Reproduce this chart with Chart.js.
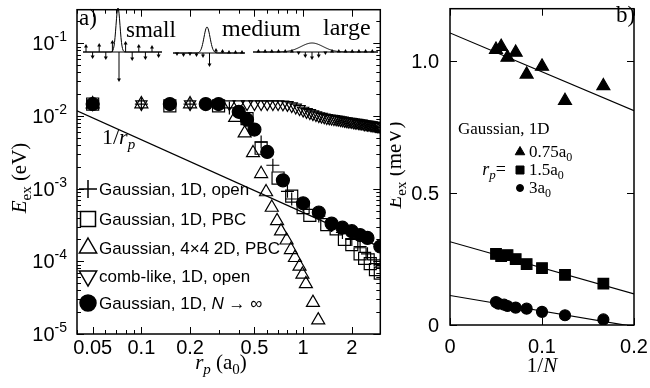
<!DOCTYPE html>
<html>
<head>
<meta charset="utf-8">
<script src="https://cdn.jsdelivr.net/npm/chart.js@4"></script>
<style>
  body { margin: 0; background: #fff; }
  #wrap { position: relative; width: 650px; height: 388px; }
  canvas { position: absolute; top: 0; }
</style>
</head>
<body>
<div id="wrap">
  <canvas id="chartA" width="390" height="388" style="left:0"></canvas>
  <canvas id="chartB" width="260" height="388" style="left:390px"></canvas>
</div>
<script>
// ---------- panel a) : E_ex (eV) against r_p (a0), log-log ----------
const rpOpen = [0.05, 0.1, 0.2, 0.35, 0.45, 0.55, 0.65, 0.8, 0.85, 1.0, 1.25, 1.5, 1.75, 2.0, 2.25, 2.5, 2.75, 3.0];
const eOpen = [0.0146, 0.0146, 0.0146, 0.0129, 0.0089, 0.0044, 0.0021, 0.00092, 0.00072, 0.00060, 0.00042, 0.00031, 0.00025, 0.00020, 0.00016, 0.000127, 0.000105, 0.00009];

const rpPbc = [0.05, 0.15, 0.3, 0.45, 0.55, 0.7, 0.85, 1.0, 1.1, 1.4, 1.6, 1.8, 2.0, 2.25, 2.4, 2.6, 2.8, 3.0];
const ePbc = [0.0146, 0.0138, 0.0138, 0.0092, 0.0036, 0.0014, 0.00079, 0.00055, 0.00043, 0.00032, 0.00028, 0.00020, 0.00017, 0.000127, 0.00011, 0.000093, 0.000077, 0.000069];

const rp2d = [0.05, 0.1, 0.2, 0.38, 0.435, 0.49, 0.55, 0.59, 0.64, 0.69, 0.73, 0.79, 0.84, 0.89, 0.95, 0.99, 1.04, 1.15, 1.24];
const e2d = [0.0146, 0.0146, 0.0146, 0.0095, 0.0058, 0.0031, 0.0016, 0.0009, 0.00055, 0.00036, 0.00026, 0.000195, 0.000144, 0.000112, 0.000085, 0.000066, 0.000049, 0.000027, 0.0000155];

const rpComb = [0.05, 0.1, 0.2, 0.35, 0.4, 0.45, 0.5, 0.55, 0.6, 0.65, 0.7, 0.75, 0.8, 0.85, 0.9, 0.95, 1.0,
  1.05, 1.1, 1.15, 1.2, 1.25, 1.3, 1.35, 1.4, 1.45, 1.5, 1.55, 1.6, 1.65, 1.7, 1.75, 1.8, 1.85, 1.9, 1.95, 2.0,
  2.05, 2.1, 2.15, 2.2, 2.25, 2.3, 2.35, 2.4, 2.45, 2.5, 2.55, 2.6, 2.65, 2.7, 2.75, 2.8, 2.85, 2.9, 2.95, 3.0];
const eComb = [0.0146, 0.0146, 0.0146, 0.0146, 0.0146, 0.0146, 0.0146, 0.0146, 0.0146, 0.0146, 0.0146, 0.0145, 0.0142, 0.0137, 0.0131, 0.0125, 0.0119,
  0.0114, 0.0110, 0.0106, 0.0103, 0.0100, 0.0098, 0.0096, 0.0094, 0.0093, 0.0092, 0.0091, 0.0090, 0.0089, 0.0088, 0.0087, 0.0086, 0.0085, 0.0084, 0.0084, 0.0083,
  0.0082, 0.0081, 0.0081, 0.0080, 0.0079, 0.0079, 0.0078, 0.0077, 0.0077, 0.0076, 0.0076, 0.0075, 0.0075, 0.0074, 0.0074, 0.0073, 0.0073, 0.0072, 0.0072, 0.0071];

const rpInf = [0.05, 0.15, 0.25, 0.3, 0.4, 0.45, 0.5, 0.6, 0.75, 1.0, 1.25, 1.5, 1.75, 2.0, 2.25, 2.5, 3.0];
const eInf = [0.0146, 0.0146, 0.0146, 0.0146, 0.0114, 0.0089, 0.0065, 0.0032, 0.0013, 0.00063, 0.00047, 0.00033, 0.00029, 0.00026, 0.00023, 0.00021, 0.00016];

// 1/r_p guide line (end points)
const rpGuide = [0.04, 3.0];
const eGuide = [0.0118, 0.000157];

const xTicksA = [0.05, 0.1, 0.2, 0.5, 1, 2];
const xLabelsA = ['0.05', '0.1', '0.2', '0.5', '1', '2'];
const xMinorA = [0.04, 0.06, 0.07, 0.08, 0.09, 0.3, 0.4, 0.6, 0.7, 0.8, 0.9, 3];
const yTicksA = [1e-5, 1e-4, 1e-3, 1e-2, 1e-1];
const yExpA = ['-5', '-4', '-3', '-2', '-1'];

// ---------- panel b) : E_ex (meV) against 1/N ----------
const invN = [0.05, 0.0556, 0.0625, 0.0714, 0.0833, 0.1, 0.125, 0.1667];
const eTri = [1.045, 1.056, 1.015, 1.034, 0.951, 0.981, 0.851, 0.907];
const eSq = [0.270, 0.261, 0.265, 0.250, 0.231, 0.216, 0.190, 0.157];
const invNCirc = [0.05, 0.0526, 0.0588, 0.0625, 0.0714, 0.0833, 0.1, 0.125, 0.1667];
const eCirc = [0.087, 0.081, 0.077, 0.072, 0.066, 0.062, 0.050, 0.037, 0.021];
// linear fits, values at 1/N = 0 and 0.2
const fitX = [0, 0.2];
const fitTri = [1.108, 0.813];
const fitSq = [0.316, 0.118];
const fitCirc = [0.112, -0.006];

const xTicksB = [0, 0.1, 0.2];
const xLabelsB = ['0', '0.1', '0.2'];
const yTicksB = [0, 0.5, 1.0];
const yLabelsB = ['0', '0.5', '1.0'];

const SERIF = '"Liberation Serif", "Times New Roman", serif';
const SANS = '"Liberation Sans", Arial, sans-serif';

const pts = (xs, ys) => xs.map((x, i) => ({ x: x, y: ys[i] }));

// text made of pieces: [text, font, dy]
function rich(ctx, parts, x, y, align) {
    let w = 0;
    parts.forEach(p => { ctx.font = p[1]; w += ctx.measureText(p[0]).width; });
    let cx = align === 'center' ? x - w / 2 : align === 'right' ? x - w : x;
    ctx.textAlign = 'left';
    parts.forEach(p => {
        ctx.font = p[1];
        ctx.fillText(p[0], cx, y + (p[2] || 0));
        cx += ctx.measureText(p[0]).width;
    });
}

function marker(ctx, style, x, y, r, filled) {
    ctx.beginPath();
    if (style === 'circle') ctx.arc(x, y, r, 0, Math.PI * 2);
    else if (style === 'rect') ctx.rect(x - r, y - r, 2 * r, 2 * r);
    else if (style === 'tri' || style === 'triDown') {
        const s = style === 'tri' ? 1 : -1;
        ctx.moveTo(x, y - s * r);
        ctx.lineTo(x + r * 0.866, y + s * r / 2);
        ctx.lineTo(x - r * 0.866, y + s * r / 2);
        ctx.closePath();
    } else if (style === 'plus') {
        ctx.moveTo(x - r, y); ctx.lineTo(x + r, y);
        ctx.moveTo(x, y - r); ctx.lineTo(x, y + r);
    }
    if (filled) ctx.fill();
    ctx.stroke();
}

// frame + inward ticks on all four sides
function frame(chart, o) {
    const { ctx, chartArea: a } = chart;
    const sx = chart.scales.x, sy = chart.scales.y;
    ctx.save();
    ctx.strokeStyle = '#000';
    ctx.lineWidth = 1;
    ctx.beginPath();
    const xt = (v, len) => {
        const p = Math.round(sx.getPixelForValue(v)) + 0.5;
        ctx.moveTo(p, a.bottom); ctx.lineTo(p, a.bottom - len);
        ctx.moveTo(p, a.top); ctx.lineTo(p, a.top + len);
    };
    const yt = (v, len) => {
        const p = Math.round(sy.getPixelForValue(v)) + 0.5;
        ctx.moveTo(a.left, p); ctx.lineTo(a.left + len, p);
        ctx.moveTo(a.right, p); ctx.lineTo(a.right - len, p);
    };
    o.xMajor.forEach(v => xt(v, 7));
    (o.xMinor || []).forEach(v => xt(v, 4));
    o.yMajor.forEach(v => yt(v, 7));
    (o.yMinor || []).forEach(v => yt(v, 4));
    ctx.stroke();
    ctx.lineWidth = 1.5;
    ctx.strokeRect(a.left, a.top, a.right - a.left, a.bottom - a.top);
    ctx.restore();
}

// little arrow, len > 0 points up
function arrow(ctx, x, y0, len) {
    const y1 = y0 - len, d = len > 0 ? 1 : -1;
    ctx.beginPath(); ctx.moveTo(x, y0); ctx.lineTo(x, y1 + 2 * d); ctx.stroke();
    ctx.beginPath(); ctx.moveTo(x, y1); ctx.lineTo(x - 2, y1 + 3.5 * d); ctx.lineTo(x + 2, y1 + 3.5 * d); ctx.closePath(); ctx.fill();
}

// wave-function sketch: base line, gaussian envelope, arrows
function sketch(ctx, s) {
    ctx.beginPath(); ctx.moveTo(s.xa, s.yb); ctx.lineTo(s.xb, s.yb); ctx.stroke();
    ctx.beginPath();
    for (let x = s.xa; x <= s.xb; x += 0.5) {
        const y = s.yb - s.h * Math.exp(-((x - s.xc) ** 2) / (2 * s.sig * s.sig));
        if (x === s.xa) ctx.moveTo(x, y); else ctx.lineTo(x, y);
    }
    ctx.stroke();
    s.arrows.forEach((l, i) => arrow(ctx, s.x0 + i * s.step, s.yb, l));
}

const yMinorA = [];
yTicksA.forEach(d => { for (let m = 2; m <= 9; m++) if (d * m < 0.29) yMinorA.push(d * m); });

const decorA = {
    id: 'decorA',
    afterDatasetsDraw(chart) {
        const ctx = chart.ctx, a = chart.chartArea;
        const sx = chart.scales.x, sy = chart.scales.y;
        frame(chart, { xMajor: xTicksA, xMinor: xMinorA, yMajor: yTicksA, yMinor: yMinorA });
        ctx.save();
        ctx.fillStyle = '#000';
        ctx.strokeStyle = '#000';
        ctx.textBaseline = 'alphabetic';

        // tick labels
        xTicksA.forEach((v, i) => rich(ctx, [[xLabelsA[i], '20px ' + SANS]], sx.getPixelForValue(v), 354, 'center'));
        yTicksA.forEach((v, i) => rich(ctx, [['10', '20px ' + SANS], [yExpA[i], '14px ' + SANS, -9]], a.left - 10, sy.getPixelForValue(v) + 7, 'right'));

        // axis titles
        rich(ctx, [['r', 'italic 21px ' + SERIF], ['p', 'italic 15px ' + SERIF, 5], [' (a', '21px ' + SERIF], ['0', '15px ' + SERIF, 5], [')', '21px ' + SERIF]], 221, 369, 'center');
        ctx.save();
        ctx.translate(26, 178);
        ctx.rotate(-Math.PI / 2);
        rich(ctx, [['E', 'italic 21px ' + SERIF], ['ex', '15px ' + SERIF, 5], [' (eV)', '21px ' + SERIF]], 0, 0, 'center');
        ctx.restore();

        // labels inside the frame
        rich(ctx, [['a)', '23px ' + SERIF]], 79, 25, 'left');
        rich(ctx, [['small', '23px ' + SERIF]], 126, 37, 'left');
        rich(ctx, [['medium', '24px ' + SERIF]], 222, 36, 'left');
        rich(ctx, [['large', '24px ' + SERIF]], 323, 35, 'left');
        rich(ctx, [['1/', '22px ' + SERIF], ['r', 'italic 22px ' + SERIF], ['p', 'italic 15px ' + SERIF, 5]], 102, 144, 'left');

        // wave-function insets
        ctx.lineWidth = 1;
        sketch(ctx, { xa: 83, xb: 162, yb: 52, xc: 118, sig: 2, h: 44, x0: 86, step: 6.6,
            arrows: [8, -7, 9, -8, 12, -30, 11, -9, 8, -8, 7, -6] });
        sketch(ctx, { xa: 173, xb: 245, yb: 53, xc: 207, sig: 3, h: 26, x0: 177, step: 6.5,
            arrows: [-3, -4, -3, -4, -5, -14, 5, 4, 3, 3, 3] });
        sketch(ctx, { xa: 253, xb: 378, yb: 52, xc: 312, sig: 11, h: 9, x0: 258.4, step: 6.7,
            arrows: [3, 3, 3, 3, 3, 3, -3, -6, -8, -6, -3, 3, 3, 3, 3, 3, 3, 3] });

        // legend
        const rows = [
            ['plus', 9, false, [['Gaussian, 1D, open', '17px ' + SANS]]],
            ['rect', 7.5, false, [['Gaussian, 1D, PBC', '17px ' + SANS]]],
            ['tri', 10, false, [['Gaussian, 4\u00d74 2D, PBC', '17px ' + SANS]]],
            ['triDown', 10, false, [['comb-like, 1D, open', '17px ' + SANS]]],
            ['circle', 8, true, [['Gaussian, 1D, ', '17px ' + SANS], ['N', 'italic 17px ' + SANS], [' \u2192 \u221e', '17px ' + SANS]]]
        ];
        const rowY = [189, 219, 248, 276, 303];
        ctx.lineWidth = 1.5;
        rows.forEach((r, i) => {
            marker(ctx, r[0], 88, rowY[i], r[1], r[2]);
            rich(ctx, r[3], 99, rowY[i] + 6, 'left');
        });
        ctx.restore();
    }
};

const decorB = {
    id: 'decorB',
    afterDatasetsDraw(chart) {
        const ctx = chart.ctx, a = chart.chartArea;
        const sx = chart.scales.x, sy = chart.scales.y;
        frame(chart, { xMajor: xTicksB, yMajor: yTicksB });
        ctx.save();
        ctx.fillStyle = '#000';
        ctx.strokeStyle = '#000';
        xTicksB.forEach((v, i) => rich(ctx, [[xLabelsB[i], '20px ' + SANS]], sx.getPixelForValue(v), 353, 'center'));
        yTicksB.forEach((v, i) => rich(ctx, [[yLabelsB[i], '20px ' + SANS]], a.left - 11, sy.getPixelForValue(v) + 7, 'right'));

        rich(ctx, [['1/', '21px ' + SERIF], ['N', 'italic 21px ' + SERIF]], 152, 372, 'center');
        ctx.save();
        ctx.translate(11, 165);
        ctx.rotate(-Math.PI / 2);
        rich(ctx, [['E', 'italic 21px ' + SERIF], ['ex', '15px ' + SERIF, 5], [' (meV)', '21px ' + SERIF]], 0, 0, 'center');
        ctx.restore();

        // legend block
        const gy = 134, ry = [152, 170, 188];
        rich(ctx, [['b)', '23px ' + SERIF]], 226, 22, 'left');
        rich(ctx, [['Gaussian, 1D', '17px ' + SERIF]], 68, gy, 'left');
        ctx.lineWidth = 1;
        marker(ctx, 'tri', 130, ry[0], 5.5, true);
        marker(ctx, 'rect', 130, ry[1], 4, true);
        marker(ctx, 'circle', 130, ry[2], 3.5, true);
        rich(ctx, [['0.75a', '17px ' + SERIF], ['0', '12px ' + SERIF, 4]], 139, ry[0] + 5, 'left');
        rich(ctx, [['1.5a', '17px ' + SERIF], ['0', '12px ' + SERIF, 4]], 139, ry[1] + 5, 'left');
        rich(ctx, [['3a', '17px ' + SERIF], ['0', '12px ' + SERIF, 4]], 139, ry[2] + 5, 'left');
        rich(ctx, [['r', 'italic 18px ' + SERIF], ['p', 'italic 13px ' + SERIF, 4], ['=', '18px ' + SERIF]], 116, ry[1] + 5, 'right');
        ctx.restore();
    }
};

const markerSet = (style, r, filled, extra) => Object.assign({
    pointStyle: style,
    pointRadius: r,
    pointBorderColor: '#000',
    pointBackgroundColor: filled ? '#000' : 'rgba(0,0,0,0)',
    pointBorderWidth: 1.2,
    showLine: false
}, extra || {});

const lineSet = (data, order) => ({
    data: data,
    showLine: true,
    pointRadius: 0,
    borderColor: '#000',
    borderWidth: 1.2,
    order: order
});

new Chart(document.getElementById('chartA'), {
    type: 'scatter',
    data: {
        datasets: [
            Object.assign({ data: pts(rpInf, eInf), order: 0 }, markerSet('circle', 6.5, true)),
            Object.assign({ data: pts(rpOpen, eOpen), order: 1 }, markerSet('cross', 6.5, false)),
            Object.assign({ data: pts(rpPbc, ePbc), order: 2 }, markerSet('rect', 8.5, false)),
            Object.assign({ data: pts(rp2d, e2d), order: 3 }, markerSet('triangle', 7.5, false)),
            Object.assign({ data: pts(rpComb, eComb), order: 4 }, markerSet('triangle', 6.5, false, { pointRotation: 180 })),
            lineSet(pts(rpGuide, eGuide), 5)
        ]
    },
    options: {
        responsive: false,
        animation: false,
        devicePixelRatio: 1,
        layout: { padding: { left: 77, right: 7, top: 3, bottom: 54 } },
        scales: {
            x: { type: 'logarithmic', min: 0.04, max: 3, display: false },
            y: { type: 'logarithmic', min: 1e-5, max: 0.29, display: false }
        },
        plugins: { legend: { display: false }, tooltip: { enabled: false } }
    },
    plugins: [decorA]
});

new Chart(document.getElementById('chartB'), {
    type: 'scatter',
    data: {
        datasets: [
            Object.assign({ data: pts(invN, eTri), order: 0 }, markerSet('triangle', 7.5, true)),
            Object.assign({ data: pts(invN, eSq), order: 0 }, markerSet('rect', 7.5, true)),
            Object.assign({ data: pts(invNCirc, eCirc), order: 0 }, markerSet('circle', 5.5, true)),
            lineSet(pts(fitX, fitTri), 1),
            lineSet(pts(fitX, fitSq), 1),
            lineSet(pts(fitX, fitCirc), 1)
        ]
    },
    options: {
        responsive: false,
        animation: false,
        devicePixelRatio: 1,
        layout: { padding: { left: 60, right: 16, top: 3, bottom: 63 } },
        scales: {
            x: { type: 'linear', min: 0, max: 0.2, display: false },
            y: { type: 'linear', min: 0, max: 1.2, display: false }
        },
        plugins: { legend: { display: false }, tooltip: { enabled: false } }
    },
    plugins: [decorB]
});
</script>
</body>
</html>
